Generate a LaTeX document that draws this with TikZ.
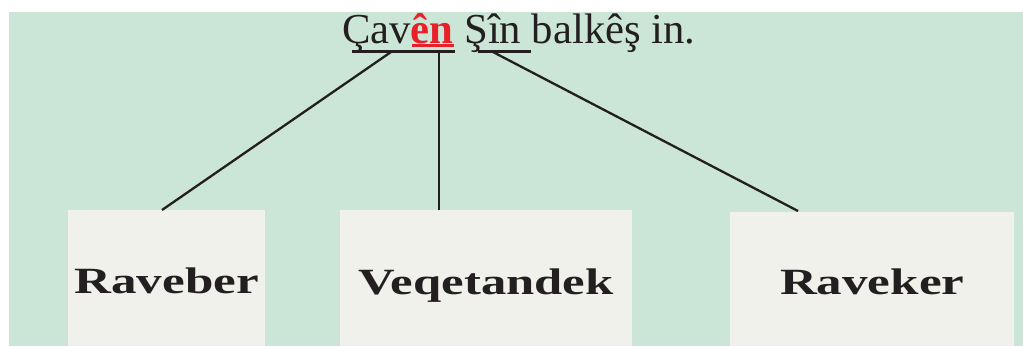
\documentclass[tikz,border=0pt]{standalone}
\usepackage{fontspec}
\setmainfont{Liberation Serif}
\definecolor{bggreen}{RGB}{203,230,214}
\definecolor{boxfill}{RGB}{240,241,234}
\definecolor{ink}{RGB}{35,31,32}
\definecolor{redtxt}{RGB}{232,32,42}
\begin{document}
\begin{tikzpicture}[x=1pt,y=-1pt,
  box/.style={fill=boxfill,draw=none,inner sep=0,anchor=north west},
  lbl/.style={anchor=base,inner sep=0,text=ink,font=\fontsize{37}{40}\selectfont\bfseries},
  conn/.style={draw=ink,line width=2.3pt},
  uline/.style={draw=ink,line width=3pt}]
\useasboundingbox (0,0) rectangle (1023,346);
\fill[white] (0,0) rectangle (1023,346);
\fill[bggreen] (9,12) rectangle (1023,346);
% title
\node[anchor=base west,inner sep=0,text=ink,font=\fontsize{42.7}{46}\selectfont] (title) at (342,43)
  {Çav\textcolor{redtxt}{\bfseries ên} Şîn balkêş in.};
% underlines
\draw[redtxt,line width=3pt] (412,45.5) -- (454,45.5);
\coordinate (u1a) at (352,51.5);
\coordinate (u1b) at (455,51.5);
\coordinate (u2a) at (478,51.5);
\coordinate (u2b) at (531,51.5);
\draw[uline] (u1a) -- (u1b);
\draw[uline] (u2a) -- (u2b);
\coordinate (p1) at (391,52);
\coordinate (p2) at (439,52);
\coordinate (p3) at (493,52);
% boxes
\node[box,minimum width=197pt,minimum height=136pt] (b1) at (68,210) {};
\node[box,minimum width=292pt,minimum height=136pt] (b2) at (340,210) {};
\node[box,minimum width=284pt,minimum height=134pt] (b3) at (730,212) {};
\node[lbl] (l1) at ([yshift=-15pt]b1.center) {\scalebox{1.38}[1]{Raveber}};
\node[lbl] (l2) at ([yshift=-16pt]b2.center) {\scalebox{1.37}[1]{Veqetandek}};
\node[lbl] (l3) at ([yshift=-15pt]b3.center) {\scalebox{1.38}[1]{Raveker}};
% connectors
\draw[conn] (p1) -- (162,210) coordinate (e1);
\draw[conn] (p2) -- (p2 |- b2.north);
\draw[conn] (p3) -- (798,211);
\end{tikzpicture}
\end{document}
